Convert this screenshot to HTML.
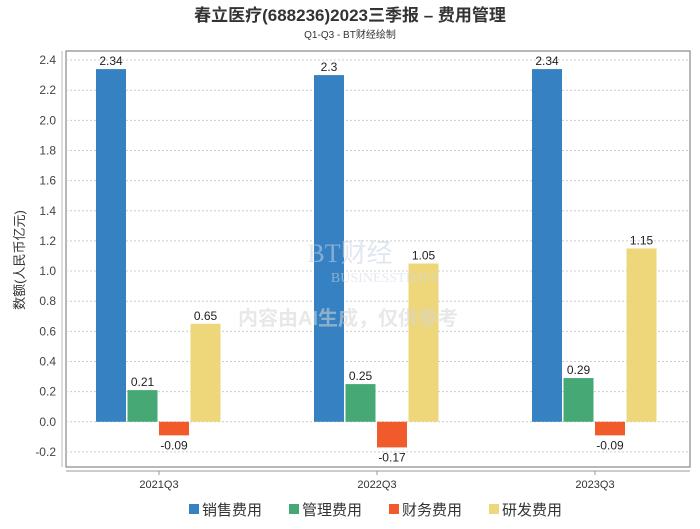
<!DOCTYPE html>
<html><head><meta charset="utf-8"><style>
body{margin:0;background:#fff;width:700px;height:524px;overflow:hidden;font-family:"Liberation Sans","Noto Sans CJK SC",sans-serif}
</style></head><body>
<svg id="c" width="700" height="524" xmlns="http://www.w3.org/2000/svg" font-family="Liberation Sans, Noto Sans CJK SC, sans-serif">
<text x="350" y="21" text-anchor="middle" font-size="17" font-weight="bold" fill="#333">春立医疗(688236)2023三季报 – 费用管理</text>
<text x="350" y="38" text-anchor="middle" font-size="10" fill="#333">Q1-Q3 - BT财经绘制</text>
<text transform="translate(24,260) rotate(-90)" text-anchor="middle" font-size="13" fill="#333">数额(人民币亿元)</text>
<g id="g"></g>
<g opacity="0.55">
<text x="350" y="262" text-anchor="middle" font-size="26" font-family="Liberation Serif, serif" fill="#c9d4e4">BT财经</text>
<text x="385" y="282" text-anchor="middle" font-size="14" font-family="Liberation Serif, serif" fill="#d0d8e4">BUSINESSTIMES</text>
<text x="348" y="325" text-anchor="middle" font-size="20" font-weight="bold" fill="#d6d6d6">内容由AI生成，仅供参考</text>
</g>
</svg>
<script>
const categories=["2021Q3","2022Q3","2023Q3"];
const seriesNames=["销售费用","管理费用","财务费用","研发费用"];
const colors=["#3581c1","#46a874","#f15a2a","#eed77a"];
const sales=[2.34,2.3,2.34];
const admin=[0.21,0.25,0.29];
const finance=[-0.09,-0.17,-0.09];
const rnd=[0.65,1.05,1.15];
const yTicks=[-0.2,0,0.2,0.4,0.6,0.8,1.0,1.2,1.4,1.6,1.8,2.0,2.2,2.4];
const series=[sales,admin,finance,rnd];
const NS="http://www.w3.org/2000/svg";
const g=document.getElementById('g');
const L=66,R=690,T=51,B=467,yMin=-0.3,yMax=2.46;
const y=v=>B-(v-yMin)/(yMax-yMin)*(B-T);
const xc=i=>159+i*218;
function mk(t,a,p){const e=document.createElementNS(NS,t);for(const k in a)e.setAttribute(k,a[k]);(p||g).appendChild(e);return e;}
mk('rect',{x:L,y:T,width:R-L,height:B-T,fill:'none',stroke:'#888','stroke-width':1.2});
yTicks.forEach(v=>{
 const l=mk('line',{x1:L,x2:R,y1:y(v),y2:y(v),stroke:'#ccc','stroke-dasharray':'2,2'});
 
 
 const t=mk('text',{x:56,y:y(v)+4,'text-anchor':'end','font-size':12,fill:'#444'});
 t.textContent=(v===0?'0.0':v.toFixed(1));
 
 
});
mk('line',{x1:62,x2:62,y1:T,y2:B,stroke:'#bbb'});
mk('line',{x1:L,x2:R,y1:471,y2:471,stroke:'#999'});
categories.forEach((c,i)=>{
 mk('line',{x1:xc(i),x2:xc(i),y1:471,y2:475,stroke:'#999'});
 const t=mk('text',{x:xc(i),y:488,'text-anchor':'middle','font-size':11,fill:'#333'});
 t.textContent=c;
 
 
 series.forEach((s,j)=>{
  const v=s[i],x0=xc(i)-63+j*31.5;
  const r=mk('rect',{x:x0,y:Math.min(y(v),y(0)),width:30,height:Math.abs(y(v)-y(0)),fill:colors[j]});
  
  
  const t2=mk('text',{x:x0+15,y:v>=0?y(v)-4:y(v)+14,'text-anchor':'middle','font-size':12,fill:'#222'});
  t2.textContent=String(v);
  
  
 });
});
const lx=[189,289,389,489];
seriesNames.forEach((n,j)=>{
 const r=mk('rect',{x:lx[j],y:504,width:10,height:10,fill:colors[j]});
 
 
 const t=mk('text',{x:lx[j]+13,y:515,'font-size':15,fill:'#333'});
 t.textContent=n;
 
 
});
</script>
</body></html>
